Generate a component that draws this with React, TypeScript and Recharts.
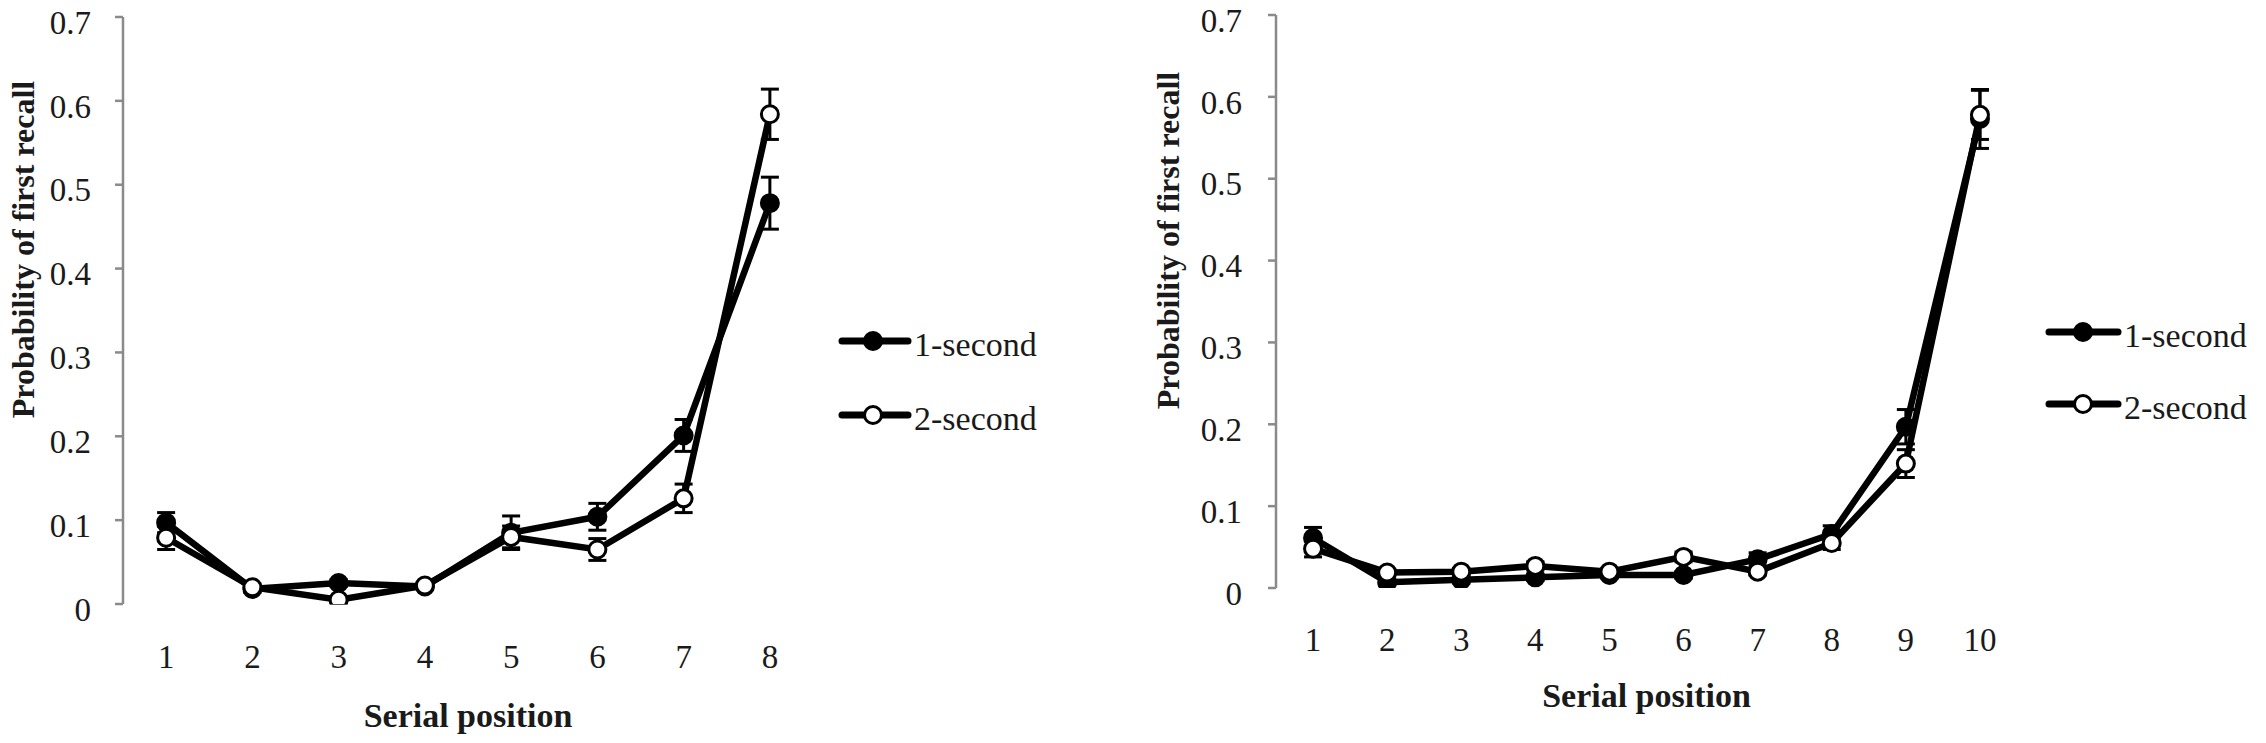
import React from 'react';
import { LineChart, Line, XAxis, YAxis, ErrorBar, Legend, Label } from 'recharts';

// serial positions, list length 8 (left panel) and 10 (right panel)
const positions8 = [1, 2, 3, 4, 5, 6, 7, 8];
const oneSec8 = [0.097, 0.018, 0.025, 0.021, 0.085, 0.104, 0.201, 0.478];
const oneSec8Err = [0.012, 0.004, 0.004, 0.004, 0.02, 0.016, 0.019, 0.031];
const twoSec8 = [0.079, 0.02, 0.005, 0.022, 0.08, 0.065, 0.126, 0.584];
const twoSec8Err = [0.014, 0.004, 0.004, 0.004, 0.013, 0.013, 0.017, 0.03];

const positions10 = [1, 2, 3, 4, 5, 6, 7, 8, 9, 10];
const oneSec10 = [0.061, 0.007, 0.01, 0.013, 0.016, 0.016, 0.035, 0.066, 0.197, 0.573];
const oneSec10Err = [0.013, 0.004, 0.004, 0.004, 0.004, 0.004, 0.008, 0.01, 0.021, 0.036];
const twoSec10 = [0.048, 0.019, 0.02, 0.027, 0.02, 0.038, 0.02, 0.055, 0.152, 0.578];
const twoSec10Err = [0.01, 0.004, 0.004, 0.005, 0.004, 0.006, 0.004, 0.008, 0.017, 0.03];

const yTicks = [0, 0.1, 0.2, 0.3, 0.4, 0.5, 0.6, 0.7];
const seriesNames = ['1-second', '2-second'];

const FONT = '"Liberation Serif", "Times New Roman", serif';
const AXIS_GRAY = '#8a8a8a';
const INK = '#1a1a1a';

const SERIES = [
  { key: 'oneSec', err: 'oneSecErr', name: seriesNames[0], fill: '#000' },
  { key: 'twoSec', err: 'twoSecErr', name: seriesNames[1], fill: '#fff' },
];

const buildRows = (pos: number[], a: number[], ae: number[], b: number[], be: number[]) =>
  pos.map((p, i) => ({ pos: p, oneSec: a[i], oneSecErr: ae[i], twoSec: b[i], twoSecErr: be[i] }));

const LegendBox = ({ payload, lineW, markerX, rowH }: any) => (
  <div style={{ fontFamily: FONT, fontSize: 34, color: INK }}>
    {(payload || []).map((entry: any) => {
      const s = SERIES.find((x) => x.key === entry.dataKey) || SERIES[0];
      return (
        <div key={s.key} style={{ display: 'flex', alignItems: 'center', height: rowH }}>
          <svg width={lineW} height={22} style={{ overflow: 'visible' }}>
            <line x1={0} y1={11} x2={lineW} y2={11} stroke="#000" strokeWidth={7} strokeLinecap="round" />
            <circle cx={markerX} cy={11} r={8.5} fill={s.fill} stroke="#000" strokeWidth={3} />
          </svg>
          <span style={{ marginLeft: 6, paddingTop: 8, whiteSpace: 'nowrap' }}>{s.name}</span>
        </div>
      );
    })}
  </div>
);

interface PanelProps {
  left: number;
  width: number;
  rows: any[];
  positions: number[];
  plotTop: number;
  plotLeft: number;
  plotRight: number;
  plotBottom: number;
  yLabelX: number;
  yLabelDy: number;
  yTickMargin: number;
  xTickMargin: number;
  xLabelOffset: number;
  legend: { left: number; top: number; rowH: number; lineW: number; markerX: number };
}

const Panel: React.FC<PanelProps> = (p) => {
  const height = 743;
  const lo = p.positions[0] - 0.5;
  const hi = p.positions[p.positions.length - 1] + 0.5;
  const boundaries = [lo, ...p.positions.map((x) => x + 0.5)];
  return (
    <div style={{ position: 'absolute', left: p.left, top: 0, width: p.width, height }}>
      <LineChart
        width={p.width}
        height={height}
        data={p.rows}
        margin={{ top: p.plotTop, right: p.width - p.plotRight, left: 0, bottom: 0 }}
      >
        <XAxis
          xAxisId="grid"
          dataKey="pos"
          type="number"
          domain={[lo, hi]}
          allowDataOverflow
          ticks={boundaries}
          tick={false}
          height={0}
          tickSize={12}
          axisLine={{ stroke: AXIS_GRAY, strokeWidth: 2.5 }}
          tickLine={{ stroke: AXIS_GRAY, strokeWidth: 2.5 }}
        />
        <XAxis
          xAxisId="pos"
          dataKey="pos"
          type="number"
          domain={[lo, hi]}
          allowDataOverflow
          ticks={p.positions}
          interval={0}
          height={height - p.plotBottom}
          axisLine={false}
          tickLine={false}
          tickSize={0}
          tickMargin={p.xTickMargin}
          tick={{ fontFamily: FONT, fontSize: 33, fill: INK }}
        >
          <Label
            value="Serial position"
            position="insideBottom"
            offset={p.xLabelOffset}
            style={{ fontFamily: FONT, fontSize: 34, fontWeight: 700, fill: INK }}
          />
        </XAxis>
        <YAxis
          type="number"
          domain={[0, 0.7]}
          allowDataOverflow
          ticks={yTicks}
          interval={0}
          width={p.plotLeft}
          tickSize={8}
          tickMargin={p.yTickMargin}
          tickFormatter={(v: number) => String(v)}
          axisLine={{ stroke: AXIS_GRAY, strokeWidth: 2.5 }}
          tickLine={{ stroke: AXIS_GRAY, strokeWidth: 2.5 }}
          tick={{ fontFamily: FONT, fontSize: 33, fill: INK, dy: 5 }}
        >
          <Label
            value="Probability of first recall"
            angle={-90}
            position="insideLeft"
            offset={p.yLabelX}
            dy={p.yLabelDy}
            style={{ fontFamily: FONT, fontSize: 32, fontWeight: 700, fill: INK, textAnchor: 'middle' }}
          />
        </YAxis>
        {SERIES.map((s) => (
          <Line
            key={s.key}
            xAxisId="pos"
            dataKey={s.key}
            name={s.name}
            stroke="#000"
            strokeWidth={6.5}
            dot={{ r: 8.5, fill: s.fill, stroke: '#000', strokeWidth: 3 }}
            activeDot={false}
            isAnimationActive={false}
          >
            <ErrorBar dataKey={s.err} width={9} strokeWidth={3} stroke="#000" direction="y" />
          </Line>
        ))}
        <Legend
          layout="vertical"
          align="center"
          verticalAlign="middle"
          wrapperStyle={{ left: p.legend.left, top: p.legend.top, width: 'auto' }}
          content={(props: any) => (
            <LegendBox payload={props.payload} lineW={p.legend.lineW} markerX={p.legend.markerX} rowH={p.legend.rowH} />
          )}
        />
      </LineChart>
    </div>
  );
};

const App: React.FC = () => {
  const rows8 = buildRows(positions8, oneSec8, oneSec8Err, twoSec8, twoSec8Err);
  const rows10 = buildRows(positions10, oneSec10, oneSec10Err, twoSec10, twoSec10Err);
  return (
    <div style={{ position: 'absolute', left: 0, top: 0, width: 2266, height: 743, background: '#fff' }}>
      <Panel
        left={0}
        width={1133}
        rows={rows8}
        positions={positions8}
        plotTop={17}
        plotLeft={123}
        plotRight={813}
        plotBottom={604}
        yLabelX={23}
        yLabelDy={-61}
        yTickMargin={24}
        xTickMargin={41}
        xLabelOffset={16}
        legend={{ left: 842, top: 304, rowH: 74, lineW: 66, markerX: 31 }}
      />
      <Panel
        left={1133}
        width={1133}
        rows={rows10}
        positions={positions10}
        plotTop={15}
        plotLeft={143}
        plotRight={884}
        plotBottom={588}
        yLabelX={35}
        yLabelDy={-61}
        yTickMargin={26}
        xTickMargin={40}
        xLabelOffset={36}
        legend={{ left: 916, top: 296, rowH: 72, lineW: 69, markerX: 34 }}
      />
    </div>
  );
};

export default App;
